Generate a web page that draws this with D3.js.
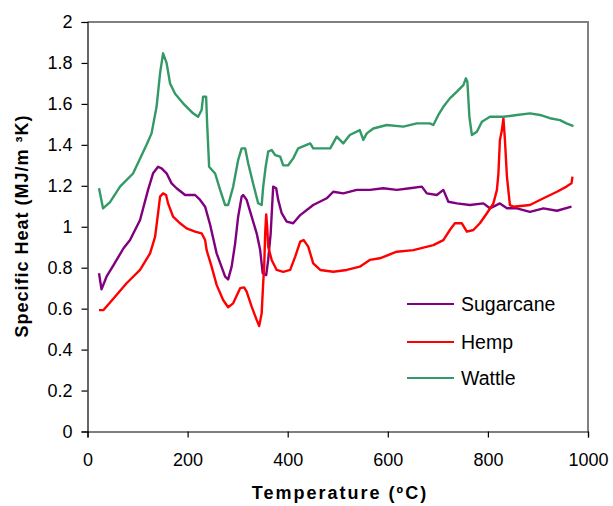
<!DOCTYPE html>
<html><head><meta charset="utf-8">
<script src="https://cdn.jsdelivr.net/npm/d3@7"></script>
<style>body{margin:0;background:#fff}svg{display:block}text{font-family:"Liberation Sans",Arial,sans-serif}</style>
</head><body>
<script>
const seriesNames = ["Sugarcane","Hemp","Wattle"];
const seriesColors = ["#800080","#FF0000","#339966"];
const xTicks = [0,200,400,600,800,1000];
const yTicks = [0,0.2,0.4,0.6,0.8,1,1.2,1.4,1.6,1.8,2];

const sugarcaneT = [23,28,38,52,72,85,105,121,131,141,148,158,168,178,195,215,225,235,245,258,275,281,288,295,301,308,311,318,328,338,345,350,357,361,366,371,377,381,388,398,411,425,451,478,491,511,538,564,591,618,644,668,678,698,711,721,738,764,791,804,824,838,858,884,911,938,967];
const sugarcaneV = [0.773,0.694,0.756,0.813,0.895,0.935,1.033,1.18,1.261,1.293,1.285,1.261,1.212,1.188,1.155,1.155,1.131,1.098,1.01,0.87,0.756,0.743,0.805,0.919,1.049,1.147,1.155,1.131,1.049,0.968,0.886,0.773,0.764,0.838,0.968,1.196,1.188,1.131,1.066,1.025,1.017,1.057,1.106,1.139,1.171,1.163,1.18,1.18,1.188,1.18,1.188,1.196,1.163,1.155,1.18,1.122,1.114,1.106,1.114,1.09,1.114,1.09,1.09,1.073,1.09,1.078,1.098];

const hempT = [23,32,52,78,105,125,135,141,145,151,157,161,171,185,198,215,228,235,238,248,258,271,281,291,305,313,318,328,338,343,348,351,353,355,357,359,361,368,378,391,405,415,425,432,441,451,465,491,518,544,564,584,618,651,691,711,724,734,748,758,771,784,798,811,818,821,824,828,831,834,838,844,851,884,911,938,957,967,969];
const hempV = [0.593,0.593,0.65,0.724,0.789,0.87,0.951,1.066,1.147,1.163,1.155,1.114,1.049,1.017,0.992,0.976,0.968,0.935,0.886,0.805,0.716,0.642,0.607,0.626,0.70,0.704,0.683,0.61,0.545,0.515,0.577,0.724,0.805,0.968,1.06,1.0,0.903,0.838,0.789,0.78,0.789,0.854,0.927,0.935,0.903,0.821,0.789,0.78,0.789,0.805,0.838,0.846,0.878,0.886,0.91,0.935,0.984,1.017,1.017,0.976,0.984,1.017,1.066,1.114,1.18,1.26,1.424,1.472,1.53,1.424,1.245,1.106,1.098,1.106,1.139,1.171,1.196,1.212,1.245];

const wattleT = [23,31,45,65,91,118,128,138,145,151,158,165,175,191,211,221,228,231,237,239,243,255,265,275,281,291,301,308,315,321,331,341,348,351,356,361,368,375,385,391,401,411,421,445,451,485,498,511,524,544,551,558,571,598,631,658,684,691,701,711,724,738,751,756,759,763,768,778,788,804,831,858,884,904,924,944,957,971];
const wattleV = [1.188,1.09,1.12,1.196,1.26,1.40,1.456,1.586,1.75,1.847,1.80,1.70,1.65,1.603,1.554,1.537,1.57,1.635,1.635,1.505,1.293,1.26,1.18,1.106,1.106,1.195,1.326,1.383,1.383,1.31,1.21,1.115,1.106,1.195,1.293,1.367,1.375,1.35,1.342,1.30,1.30,1.334,1.383,1.407,1.383,1.383,1.44,1.407,1.448,1.472,1.424,1.456,1.48,1.497,1.489,1.505,1.505,1.497,1.546,1.586,1.627,1.66,1.692,1.725,1.708,1.537,1.448,1.464,1.513,1.537,1.537,1.546,1.554,1.546,1.53,1.521,1.505,1.492];

const W = 613, H = 506;
const m = {left: 87.5, right: 613-588, top: 22, bottom: 506-431.5};
const svg = d3.select("body").append("svg").attr("width", W).attr("height", H);
const x = d3.scaleLinear().domain([0,1000]).range([m.left, W - m.right]);
const y = d3.scaleLinear().domain([0,2]).range([H - m.bottom, m.top]);

// top/right frame (grey)
svg.append("path")
  .attr("d", `M${x(0)},${y(2)}H${x(1000)}V${y(0)}`)
  .attr("fill","none").attr("stroke","#808080").attr("stroke-width",2);

const xAxis = svg.append("g").attr("transform",`translate(0,${y(0)})`)
  .call(d3.axisBottom(x).tickValues(xTicks).tickSize(6).tickPadding(16).tickFormat(d3.format("d")));
const yAxis = svg.append("g").attr("transform",`translate(${x(0)},0)`)
  .call(d3.axisLeft(y).tickValues(yTicks).tickSize(6).tickPadding(9).tickFormat(d => String(d)));
[xAxis, yAxis].forEach(g => {
  g.selectAll("path,line").attr("stroke","#000").attr("stroke-width",1.2);
  g.selectAll("text").attr("font-size",18).attr("fill","#000").attr("font-family",'"Liberation Sans",Arial,sans-serif');
});

const data = [
  {name: seriesNames[0], color: seriesColors[0], T: sugarcaneT, V: sugarcaneV},
  {name: seriesNames[1], color: seriesColors[1], T: hempT, V: hempV},
  {name: seriesNames[2], color: seriesColors[2], T: wattleT, V: wattleV}
];
const line = d3.line().x(d => x(d[0])).y(d => y(d[1])).curve(d3.curveLinear);
data.forEach(s => {
  svg.append("path").datum(s.T.map((t,i) => [t, s.V[i]]))
    .attr("d", line).attr("fill","none").attr("stroke", s.color)
    .attr("stroke-width", 2.4).attr("stroke-linejoin","round");
});

// legend
const legY = [304, 342, 378];
data.forEach((s,i) => {
  svg.append("line").attr("x1",407).attr("x2",454).attr("y1",legY[i]).attr("y2",legY[i])
    .attr("stroke", s.color).attr("stroke-width",2);
  svg.append("text").attr("x",461).attr("y",legY[i]).attr("dy","0.36em")
    .attr("font-size",19.5).attr("fill","#000").text(s.name);
});

// axis titles
svg.append("text").attr("x",340).attr("y",499).attr("text-anchor","middle")
  .attr("font-size",18).attr("font-weight","bold").attr("letter-spacing","2px").text("Temperature (ºC)");
svg.append("text").attr("transform","translate(28,226) rotate(-90)").attr("text-anchor","middle")
  .attr("font-size",18).attr("font-weight","bold").attr("letter-spacing","1px").text("Specific Heat (MJ/m ³K)");
</script>
</body></html>
